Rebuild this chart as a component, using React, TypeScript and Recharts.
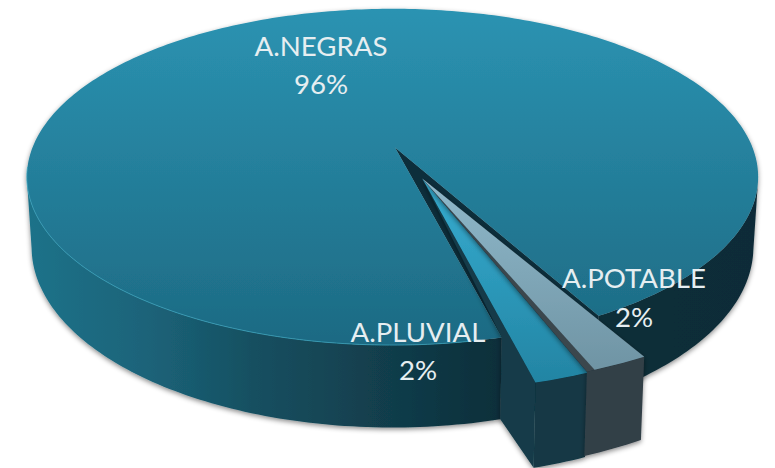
import { PieChart, Pie } from 'recharts'

const CATEGORIES = ['A.NEGRAS', 'A.PLUVIAL', 'A.POTABLE']
const SHARES = [96, 2, 2]

const data = CATEGORIES.map((name, i) => ({ name, value: SHARES[i] }))

// tilted disc: world (u, v) on the unit circle -> screen
const X0 = 392.5
const Y0 = 147.5
const A = 360
const B = 163
const K = 0.175
const DEPTH = 68
const BASE_SHRINK = 0.987
const MAIN_APEX = { u: 0.007, v: 0 }
const EXPLODE_APEX = { u: 0.08, v: 0.184 }
const PLUVIAL_OFFSET = { u: 0.065, v: 0.184 }
const POTABLE_OFFSET_START = { u: 0.064, v: 0.18 }
const POTABLE_OFFSET_END = { u: 0.086, v: 0.174 }
const GAP_DEG = 1.1

const LABEL_SPOTS = [
  { x: 321, y1: 56, y2: 94 },
  { x: 418, y1: 342, y2: 380 },
  { x: 634, y1: 288, y2: 327 },
]

type Pt = [number, number]
type World = { u: number; v: number }

const project = (u: number, v: number): Pt => {
  const w = 1 - K * v
  return [X0 + (A * u) / w, Y0 + (B * v) / w]
}

const projectBase = (u: number, v: number): Pt => {
  const w = 1 - K * v
  const [x, y] = project(u, v)
  return [X0 + (x - X0) * BASE_SHRINK, y + DEPTH / w]
}

const rim = (deg: number, off = { u: 0, v: 0 }): World => {
  const a = (deg * Math.PI) / 180
  return { u: Math.cos(a) + off.u, v: -Math.sin(a) + off.v }
}

const arc = (start: number, end: number, off = { u: 0, v: 0 }, offEnd = off) => {
  const n = Math.max(6, Math.ceil(Math.abs(end - start)))
  const out: World[] = []
  for (let i = 0; i <= n; i++) {
    const t = i / n
    out.push(rim(start + (end - start) * t, { u: off.u + (offEnd.u - off.u) * t, v: off.v + (offEnd.v - off.v) * t }))
  }
  return out
}

const toPath = (pts: Pt[], close = true) =>
  pts.map((p, i) => `${i ? 'L' : 'M'}${p[0].toFixed(2)},${p[1].toFixed(2)}`).join(' ') + (close ? ' Z' : '')

const top = (p: World) => project(p.u, p.v)
const base = (p: World) => projectBase(p.u, p.v)

// only rim points past the silhouette tangent (v >= K) show a wall
function OuterWall({ points, fill }: { points: World[]; fill: string }) {
  const runs: World[][] = []
  let run: World[] = []
  points.forEach((p) => {
    if (p.v >= K) {
      run.push(p)
    } else if (run.length) {
      runs.push(run)
      run = []
    }
  })
  if (run.length) runs.push(run)
  return (
    <g>
      {runs.map((r, i) => (
        <path key={i} d={toPath([...r.map(top), ...[...r].reverse().map(base)])} fill={fill} />
      ))}
    </g>
  )
}

function MainSlice({ startAngle, endAngle }: any) {
  const pts = arc(startAngle, endAngle)
  const rimR = pts[0]
  const rimL = pts[pts.length - 1]
  return (
    <g filter="url(#softShadow)">
      <OuterWall points={pts} fill="url(#mainWall)" />
      <path d={toPath([top(MAIN_APEX), top(rimR), base(rimR), base(rimL), top(rimL)])} fill="#0e2f3b" />
      <path d={toPath([top(MAIN_APEX), ...pts.map(top)])} fill="url(#mainTop)" />
      <path
        d={toPath(pts.filter((p) => p.v > 0.1 && p.u < 0.2).map(top), false)}
        fill="none"
        stroke="#37a0ba"
        strokeWidth={1}
        strokeOpacity={0.8}
      />
    </g>
  )
}

function ExplodedSlice({ startAngle, endAngle, index }: any) {
  if (index === 1) {
    const pts = arc(startAngle, endAngle, PLUVIAL_OFFSET)
    const tip = pts[0]
    const mainCorner = rim(startAngle)
    return (
      <g filter="url(#softShadow)">
        <path
          d={toPath([top(EXPLODE_APEX), top(tip), base(tip), base(mainCorner), top(mainCorner)])}
          fill="#143b48"
        />
        <OuterWall points={pts} fill="#123844" />
        <path d={toPath([top(EXPLODE_APEX), ...pts.map(top)])} fill="url(#pluvialTop)" />
      </g>
    )
  }
  const pts = arc(startAngle, endAngle, POTABLE_OFFSET_START, POTABLE_OFFSET_END)
  const face = arc(startAngle + GAP_DEG, endAngle, POTABLE_OFFSET_START, POTABLE_OFFSET_END)
  return (
    <g filter="url(#softShadow)">
      <OuterWall points={pts} fill="#333f47" />
      <path d={toPath([top(EXPLODE_APEX), ...pts.map(top)])} fill="#3a474e" />
      <path d={toPath([top(EXPLODE_APEX), ...face.map(top)])} fill="url(#potableTop)" />
    </g>
  )
}

function SliceShape(props: any) {
  return props.index === 0 ? <MainSlice {...props} /> : <ExplodedSlice {...props} />
}

function SliceLabel({ index, name, value }: any) {
  const spot = LABEL_SPOTS[index]
  const style = { fontFamily: 'Lato, sans-serif', fontSize: 27.6, fill: '#e6eef1' }
  return (
    <g>
      <text x={spot.x} y={spot.y1} textAnchor="middle" style={style}>{name}</text>
      <text x={spot.x} y={spot.y2} textAnchor="middle" style={style}>{`${value}%`}</text>
    </g>
  )
}

export default function App() {
  return (
    <div style={{ position: 'absolute', left: 0, top: 0, width: 775, height: 468, background: '#fff' }}>
      <PieChart width={775} height={468} margin={{ top: 0, right: 0, bottom: 0, left: 0 }}>
        <defs>
          <filter id="softShadow" filterUnits="userSpaceOnUse" x="0" y="0" width="775" height="468">
            <feDropShadow dx="0" dy="2" stdDeviation="2.5" floodColor="#000" floodOpacity="0.45" />
          </filter>
          <linearGradient id="mainTop" gradientUnits="userSpaceOnUse" x1="0" y1="8" x2="0" y2="345">
            <stop offset="0" stopColor="#2b93b2" />
            <stop offset="1" stopColor="#1d6a83" />
          </linearGradient>
          <linearGradient id="mainWall" gradientUnits="userSpaceOnUse" x1="30" y1="0" x2="760" y2="0">
            <stop offset="0" stopColor="#1f7289" />
            <stop offset="0.16" stopColor="#1b6379" />
            <stop offset="0.31" stopColor="#164f60" />
            <stop offset="0.5" stopColor="#113c4a" />
            <stop offset="0.64" stopColor="#0f2f3a" />
            <stop offset="1" stopColor="#0e2c37" />
          </linearGradient>
          <linearGradient id="pluvialTop" gradientUnits="userSpaceOnUse" x1="0" y1="178" x2="0" y2="380">
            <stop offset="0" stopColor="#36add1" />
            <stop offset="1" stopColor="#2385a4" />
          </linearGradient>
          <linearGradient id="potableTop" gradientUnits="userSpaceOnUse" x1="0" y1="178" x2="0" y2="370">
            <stop offset="0" stopColor="#90b9cb" />
            <stop offset="1" stopColor="#6f94a4" />
          </linearGradient>
        </defs>
        <Pie
          data={data}
          dataKey="value"
          nameKey="name"
          cx={392}
          cy={175}
          outerRadius={160}
          startAngle={-61}
          endAngle={299}
          stroke="none"
          shape={SliceShape}
          label={SliceLabel}
          labelLine={false}
          isAnimationActive={false}
        />
      </PieChart>
    </div>
  )
}
